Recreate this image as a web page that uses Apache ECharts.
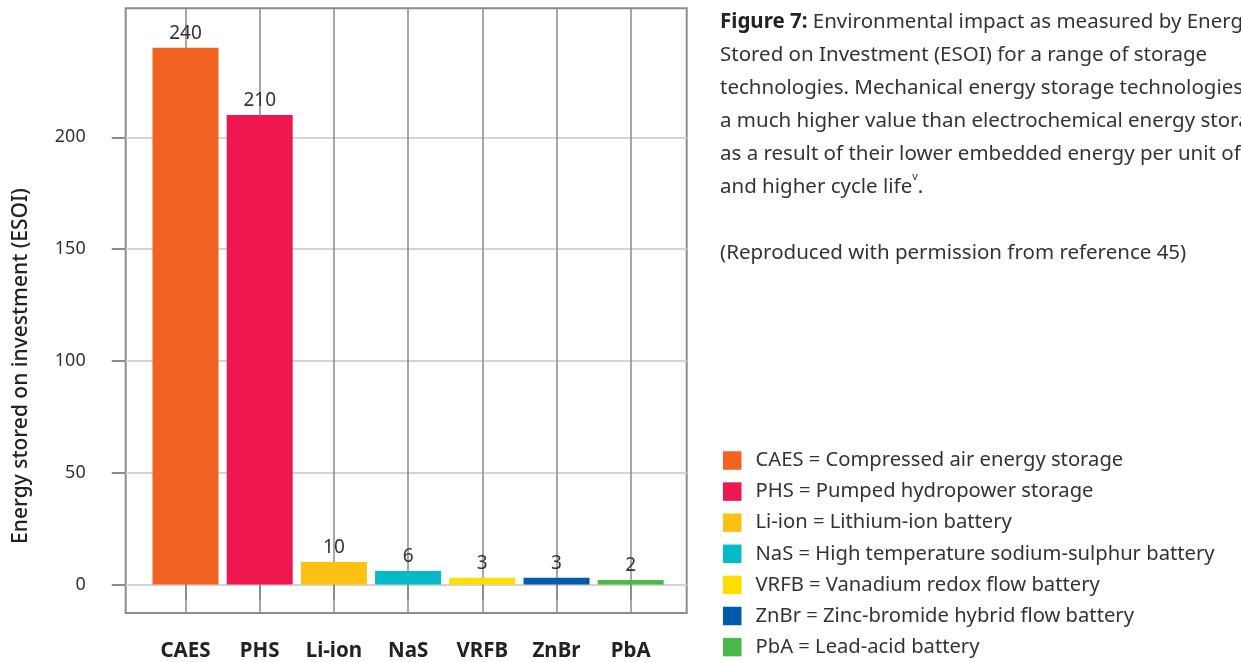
<!DOCTYPE html>
<html>
<head>
<meta charset="utf-8">
<script src="https://cdn.jsdelivr.net/npm/echarts@6/dist/echarts.min.js"></script>
<style>
  html, body { margin: 0; padding: 0; background: #fff; }
  #chart { width: 1241px; height: 662px; }
</style>
</head>
<body>
<div id="chart"></div>
<script>
// Storage technologies and their energy stored on investment (ESOI)
const categories = ['CAES', 'PHS', 'Li-ion', 'NaS', 'VRFB', 'ZnBr', 'PbA'];
const esoi = [240, 210, 10, 6, 3, 3, 2];
const descriptions = [
  'Compressed air energy storage',
  'Pumped hydropower storage',
  'Lithium-ion battery',
  'High temperature sodium-sulphur battery',
  'Vanadium redox flow battery',
  'Zinc-bromide hybrid flow battery',
  'Lead-acid battery'
];
const colors = ['#F26322', '#EE174F', '#FDC113', '#06BAC6', '#FEDD00', '#005BAA', '#4CB849'];
const yTicks = [0, 50, 100, 150, 200];
const xTicks = [1, 2, 3, 4, 5, 6, 7];

const FONT = '"Noto Sans", "Open Sans", sans-serif';
const TEXT = '#333333';

const chart = echarts.init(document.getElementById('chart'), null, { renderer: 'canvas' });

// One series per technology so each gets its own legend entry
const series = categories.map((c, i) => ({
  name: c + ' = ' + descriptions[i],
  type: 'bar',
  stack: 'esoi',
  barWidth: 66,
  data: [[xTicks[i], esoi[i]]],
  itemStyle: { color: colors[i] },
  label: {
    show: true,
    position: 'top',
    distance: 5,
    formatter: p => String(p.value[1]),
    fontFamily: FONT,
    fontSize: 19,
    color: TEXT
  }
}));

chart.setOption({
  animation: false,
  backgroundColor: '#ffffff',
  textStyle: { fontFamily: FONT },
  grid: {
    left: 125.7,
    right: 554.3,
    top: 8.3,
    bottom: 49,
    show: true,
    borderColor: '#8c8c8c',
    borderWidth: 2,
    backgroundColor: 'transparent'
  },
  xAxis: {
    type: 'value',
    min: 0.194,
    max: 7.755,
    axisLine: { show: false },
    axisTick: {
      show: true,
      customValues: xTicks,
      length: 15,
      lineStyle: { color: '#8c8c8c', width: 2 }
    },
    axisLabel: {
      customValues: xTicks,
      formatter: v => categories[Math.round(v) - 1] || '',
      margin: 28,
      fontFamily: FONT,
      fontSize: 20.5,
      fontWeight: 'bold',
      color: '#222222'
    },
    splitLine: {
      show: true,
      lineStyle: { color: '#8a8a8a', width: 1.5 }
    }
  },
  yAxis: {
    type: 'value',
    min: -12.8,
    max: 257.7,
    axisLine: { show: false },
    axisTick: {
      show: true,
      customValues: yTicks,
      length: 14,
      lineStyle: { color: '#8c8c8c', width: 2 }
    },
    axisLabel: {
      customValues: yTicks,
      margin: 40,
      fontFamily: FONT,
      fontSize: 18,
      color: TEXT
    },
    splitLine: {
      show: true,
      lineStyle: { color: '#d4d4d4', width: 2 }
    }
  },
  legend: {
    orient: 'vertical',
    left: 723,
    top: 450.5,
    height: 400,
    padding: 0,
    icon: 'rect',
    itemWidth: 18.5,
    itemHeight: 18.5,
    itemGap: 11.1,
    selectedMode: false,
    textStyle: {
      fontFamily: FONT,
      fontSize: 20.2,
      color: TEXT,
      padding: [0, 0, 0, 9]
    },
    data: series.map(s => s.name)
  },
  title: {
    left: 720,
    top: 6,
    padding: 0,
    text: '{b|Figure 7:} Environmental impact as measured by Energy\n' +
      'Stored on Investment (ESOI) for a range of storage\n' +
      'technologies. Mechanical energy storage technologies have\n' +
      'a much higher value than electrochemical energy storage\n' +
      'as a result of their lower embedded energy per unit of storage\n' +
      'and higher cycle life{sup|v}.\n' +
      '\n' +
      '(Reproduced with permission from reference 45)',
    textStyle: {
      fontFamily: FONT,
      fontSize: 20.5,
      fontWeight: 'normal',
      color: TEXT,
      lineHeight: 33,
      rich: {
        b: { fontFamily: FONT, fontSize: 20.5, fontWeight: 'bold', color: '#222222', lineHeight: 33 },
        sup: { fontFamily: FONT, fontSize: 11, color: TEXT, lineHeight: 24, verticalAlign: 'top' }
      }
    }
  },
  graphic: [{
    type: 'text',
    x: 21,
    y: 366,
    rotation: Math.PI / 2,
    style: {
      text: 'Energy stored on investment (ESOI)',
      fontFamily: FONT,
      fontSize: 21,
      fontWeight: 500,
      fill: '#222222',
      align: 'center',
      verticalAlign: 'middle'
    }
  }],
  series: series
});
</script>
</body>
</html>
